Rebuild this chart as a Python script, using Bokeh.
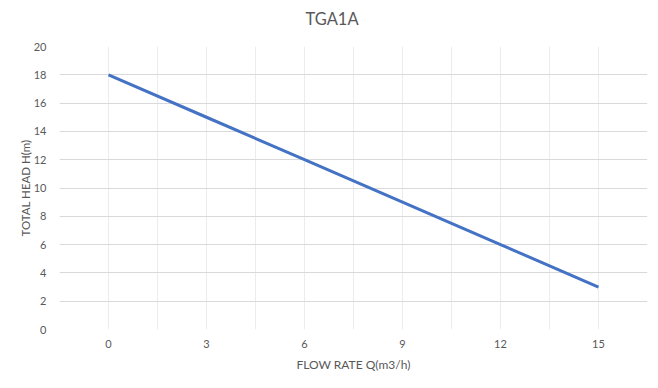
from bokeh.plotting import figure
from bokeh.models import Range1d, FixedTicker, Title
from bokeh.embed import file_html
from bokeh.resources import INLINE

title_text = "TGA1A"
flow_rate = [0, 3, 6, 9, 12, 15]
total_head = [18, 15, 12, 9, 6, 3]
x_ticks = [0, 3, 6, 9, 12, 15]
x_grid = [-1.5, 0, 1.5, 3, 4.5, 6, 7.5, 9, 10.5, 12, 13.5, 15, 16.5]
y_ticks = [0, 2, 4, 6, 8, 10, 12, 14, 16, 18, 20]

FONT = "Lato"
TXT = "#595959"

p = figure(frame_width=588, frame_height=283, output_backend="svg", toolbar_location=None,
           x_range=Range1d(-1.5, 16.5), y_range=Range1d(0, 20),
           min_border_left=59, min_border_right=11, min_border_top=46, min_border_bottom=59)
p.outline_line_color = None
p.background_fill_color = "white"
p.border_fill_color = "white"

# spacer (closest to the frame), then the visible title above it
p.add_layout(Title(text=" ", text_font_size="2px", standoff=14), "above")
p.add_layout(Title(text=title_text, align="left", offset=246, standoff=0,
                   text_font=FONT, text_font_size="16.5px", text_font_style="normal",
                   text_color=TXT), "above")

p.line(flow_rate, total_head, line_color="#4472C4", line_width=3)

p.xaxis.ticker = FixedTicker(ticks=x_ticks)
p.yaxis.ticker = FixedTicker(ticks=y_ticks)
p.xgrid.ticker = FixedTicker(ticks=x_grid)
p.xgrid.grid_line_color = "#ececec"
p.ygrid.grid_line_color = "#d9d9d9"

for ax in (p.xaxis, p.yaxis):
    ax.axis_line_color = None
    ax.major_tick_line_color = None
    ax.minor_tick_line_color = None
    ax.major_tick_out = 0
    ax.major_tick_in = 0
    ax.minor_tick_out = 0
    ax.minor_tick_in = 0
    ax.major_label_text_font = FONT
    ax.major_label_text_font_size = "11px"
    ax.major_label_text_color = TXT
    ax.axis_label_text_font = FONT
    ax.axis_label_text_font_size = "12px"
    ax.axis_label_text_font_style = "normal"
    ax.axis_label_text_color = TXT

p.yaxis.axis_label_text_font_size = "11.5px"
p.xaxis.axis_label = "FLOW RATE Q(m3/h)"
p.yaxis.axis_label = "TOTAL HEAD H(m)"
p.xaxis.major_label_standoff = 10
p.yaxis.major_label_standoff = 13
p.xaxis.axis_label_standoff = 6
p.yaxis.axis_label_standoff = -1

open("out.html", "w").write(file_html(p, INLINE))
